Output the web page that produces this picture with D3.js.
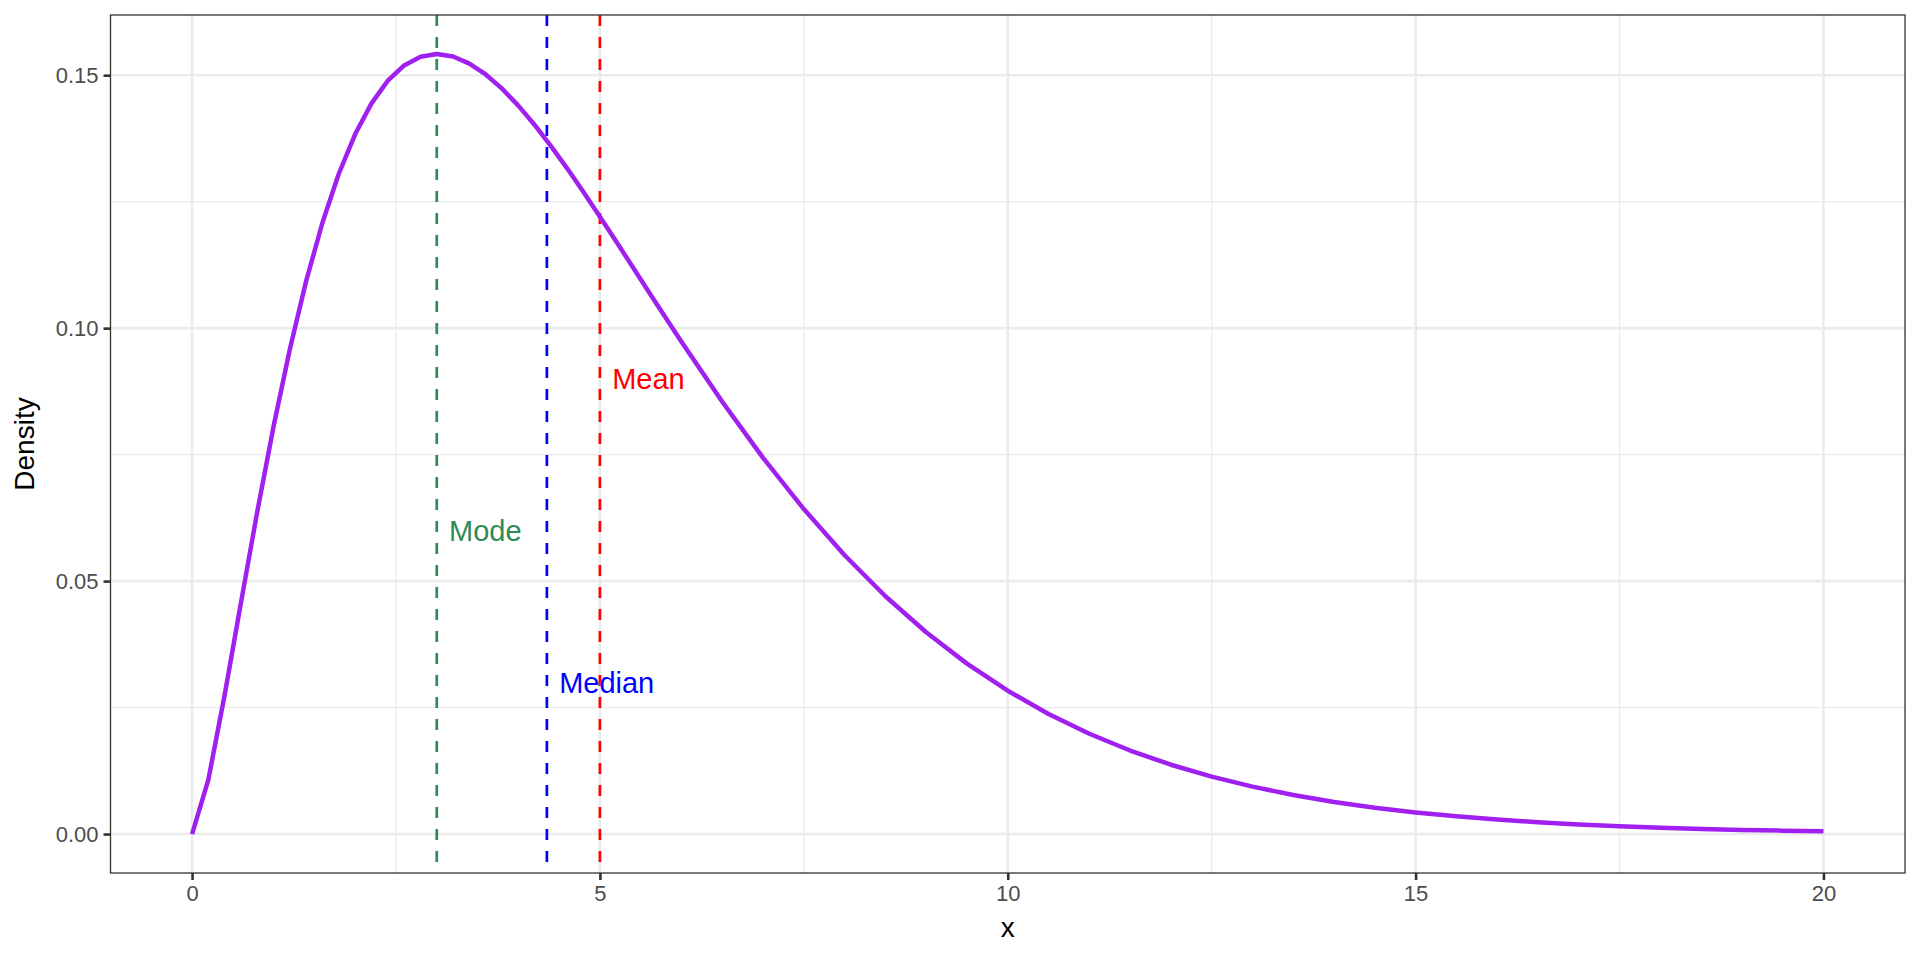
<!DOCTYPE html>
<html>
<head>
<meta charset="utf-8">
<script src="https://cdn.jsdelivr.net/npm/d3@7"></script>
<style>
  body { margin: 0; background: white; }
  svg { font-family: "Liberation Sans", Arial, sans-serif; }
</style>
</head>
<body>
<svg id="chart" width="1920" height="960"></svg>
<script>
// curve values
var xs = [0, 0.2, 0.4, 0.6, 0.8, 1.0, 1.2, 1.4, 1.6, 1.8, 2.0, 2.2, 2.4, 2.6, 2.8,
  3.0, 3.2, 3.4, 3.6, 3.8, 4.0, 4.2, 4.4, 4.6, 4.8, 5.0, 5.2, 5.4, 5.6, 5.8, 6.0,
  6.5, 7.0, 7.5, 8.0, 8.5, 9.0, 9.5, 10, 10.5, 11, 11.5, 12, 12.5, 13, 13.5, 14,
  14.5, 15, 15.5, 16, 16.5, 17, 17.5, 18, 18.5, 19, 19.5, 20];
var density = [0, 0.01076, 0.02754, 0.04579, 0.06378, 0.08066, 0.09594, 0.10939,
  0.12093, 0.13057, 0.13837, 0.14444, 0.14892, 0.15194, 0.15364, 0.15418, 0.15369,
  0.1523, 0.15015, 0.14734, 0.14398, 0.14017, 0.13599, 0.13154, 0.12687, 0.12204,
  0.11712, 0.11215, 0.10716, 0.10221, 0.0973, 0.08545, 0.07437, 0.06424, 0.05511,
  0.04701, 0.03989, 0.03369, 0.02833, 0.02374, 0.01983, 0.01651, 0.0137, 0.01135,
  0.00937, 0.00772, 0.00635, 0.00521, 0.00427, 0.0035, 0.00286, 0.00233, 0.0019,
  0.00154, 0.00125, 0.00102, 0.00082, 0.00067, 0.00054];

// reference lines
var refNames = ["Mode", "Median", "Mean"];
var refX = [3, 4.35, 5];
var refLabelY = [0.06, 0.03, 0.09];
var refColors = ["#2E8B57", "#0000FF", "#FF0000"];

var xTicks = [0, 5, 10, 15, 20];
var xMinor = [2.5, 7.5, 12.5, 17.5];
var yTicks = [0, 0.05, 0.1, 0.15];
var yMinor = [0.025, 0.075, 0.125];

var pLeft = 110.5, pRight = 1905, pTop = 15, pBottom = 873;

var x = d3.scaleLinear().domain([-1, 21]).range([pLeft, pRight]);
var y = d3.scaleLinear().domain([-0.0077, 0.1619]).range([pBottom, pTop]);

var svg = d3.select("#chart");
var g = svg.append("g");

// grid
g.selectAll(".xminor").data(xMinor).enter().append("line")
  .attr("x1", d => x(d)).attr("x2", d => x(d))
  .attr("y1", pTop).attr("y2", pBottom)
  .attr("stroke", "#EBEBEB").attr("stroke-width", 1.3);
g.selectAll(".yminor").data(yMinor).enter().append("line")
  .attr("x1", pLeft).attr("x2", pRight)
  .attr("y1", d => y(d)).attr("y2", d => y(d))
  .attr("stroke", "#EBEBEB").attr("stroke-width", 1.3);
g.selectAll(".xmajor").data(xTicks).enter().append("line")
  .attr("x1", d => x(d)).attr("x2", d => x(d))
  .attr("y1", pTop).attr("y2", pBottom)
  .attr("stroke", "#EBEBEB").attr("stroke-width", 2.6);
g.selectAll(".ymajor").data(yTicks).enter().append("line")
  .attr("x1", pLeft).attr("x2", pRight)
  .attr("y1", d => y(d)).attr("y2", d => y(d))
  .attr("stroke", "#EBEBEB").attr("stroke-width", 2.6);

// dashed lines
g.selectAll(".ref").data(refX).enter().append("line")
  .attr("x1", d => x(d)).attr("x2", d => x(d))
  .attr("y1", pTop).attr("y2", pBottom)
  .attr("stroke", (d, i) => refColors[i])
  .attr("stroke-width", 2.7)
  .attr("stroke-dasharray", "11,11");

// curve
var line = d3.line()
  .x((d, i) => x(xs[i]))
  .y(d => y(d));

g.append("path")
  .datum(density)
  .attr("d", line)
  .attr("fill", "none")
  .attr("stroke", "#A020F0")
  .attr("stroke-width", 4.5)
  .attr("stroke-linejoin", "round");

// labels
g.selectAll(".lbl").data(refNames).enter().append("text")
  .attr("x", (d, i) => x(refX[i] + 0.15))
  .attr("y", (d, i) => y(refLabelY[i]))
  .attr("dy", "0.36em")
  .attr("fill", (d, i) => refColors[i])
  .style("font-size", "29px")
  .text(d => d);

// panel border
g.append("rect")
  .attr("x", pLeft).attr("y", pTop)
  .attr("width", pRight - pLeft).attr("height", pBottom - pTop)
  .attr("fill", "none").attr("stroke", "#333333").attr("stroke-width", 1.3);

// axes
var xAxis = svg.append("g")
  .attr("transform", "translate(0," + pBottom + ")")
  .call(d3.axisBottom(x).tickValues(xTicks).tickSize(7).tickPadding(5).tickFormat(d3.format("d")));
var yAxis = svg.append("g")
  .attr("transform", "translate(" + pLeft + ",0)")
  .call(d3.axisLeft(y).tickValues(yTicks).tickSize(7).tickPadding(5).tickFormat(d3.format(".2f")));

[xAxis, yAxis].forEach(function (a) {
  a.select(".domain").remove();
  a.selectAll(".tick line").attr("stroke", "#333333").attr("stroke-width", 2.6);
  a.selectAll(".tick text").attr("fill", "#4D4D4D")
    .style("font-size", "22px").style("font-family", "Liberation Sans, Arial, sans-serif");
});

// axis titles
svg.append("text")
  .attr("x", (pLeft + pRight) / 2).attr("y", 937)
  .attr("text-anchor", "middle")
  .style("font-size", "28px")
  .text("x");
svg.append("text")
  .attr("transform", "translate(34," + (pTop + pBottom) / 2 + ") rotate(-90)")
  .attr("text-anchor", "middle")
  .style("font-size", "28px")
  .text("Density");
</script>
</body>
</html>
